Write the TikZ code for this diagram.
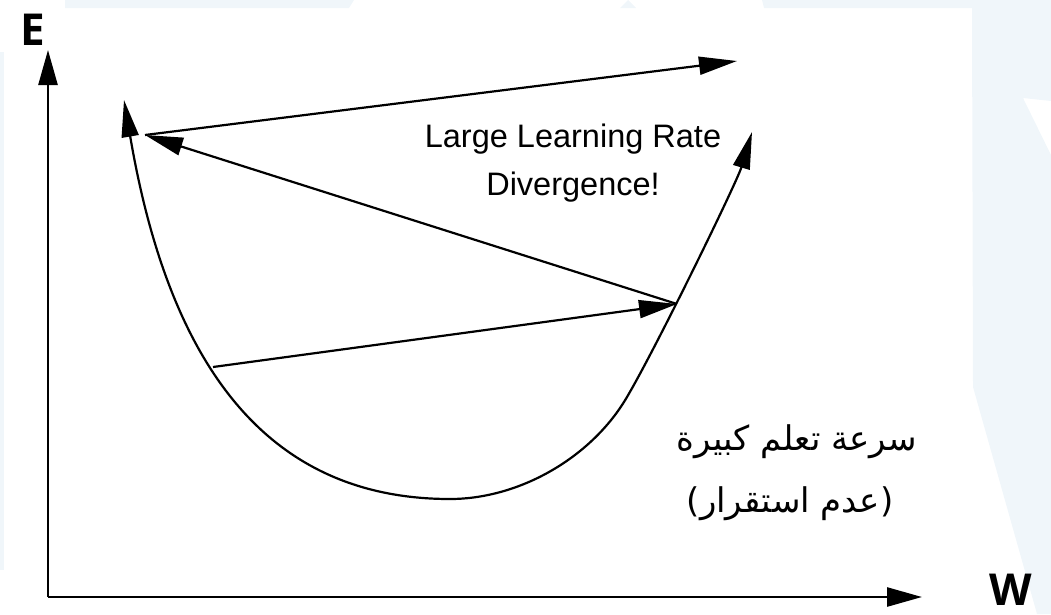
\documentclass[tikz,border=0pt]{standalone}
\usepackage{fontspec}
\setmainfont{Liberation Sans}
\newfontfamily\axisfont{Open Sans}
\newfontfamily\arabicfont[Script=Arabic]{DejaVu Sans}
\TeXXeTstate=1
\usetikzlibrary{arrows.meta}
\definecolor{wmblue}{RGB}{240,246,250}
\tikzset{
    axis/.style    = {line width=2.6pt, -{Triangle[length=35pt, width=19pt]}},
    curve/.style   = {line width=2.2pt, {Triangle[length=37pt, width=17pt]}-{Triangle[length=37pt, width=17pt]}},
    jump/.style    = {line width=2.2pt, -{Triangle[length=38pt, width=18pt]}},
    axlabel/.style = {font=\axisfont\bfseries\fontsize{44}{48}\selectfont, inner sep=0pt, anchor=base},
    note/.style    = {font=\fontsize{32.5}{48}\selectfont, align=center, inner sep=0pt},
    arnote/.style  = {font=\arabicfont\fontsize{34}{40}\selectfont, inner sep=0pt, anchor=base}
}

\begin{document}
\begin{tikzpicture}[x=1pt, y=-1pt]
    \useasboundingbox (0,0) rectangle (1051,614);
    % faint watermark
    \fill[wmblue] (65,0) -- (354,0) -- (349,8) -- (65,8) -- cycle;
    \fill[wmblue] (620,8) -- (628,0) -- (636,8) -- cycle;
    \fill[wmblue] (762,0) -- (1051,0) -- (1051,101) -- (1023,98) -- (1051,155)
        -- (1051,614) -- (1037,614) -- (973,387) -- (972,8) -- (764,8) -- cycle;
    \fill[wmblue] (0,52) rectangle (4,570);

    % axes
    \coordinate (orig) at (48,597);
    \coordinate (etop) at (48,50);
    \coordinate (wend) at (922,597);
    \draw[axis] (orig) -- (etop);
    \draw[axis] (orig) -- (wend);
    \node[axlabel] (elab) at (33,45) {E};
    \node[axlabel] (wlab) at (1011,605) {W};

    % error curve
    \draw[curve] (124,100) .. controls (170,370) and (270,499) .. (450,499)
        .. controls (520,499) and (592,457) .. (627,397)
        .. controls (657,346) and (737,182) .. (752,132);

    % weight jumps
    \coordinate (w0) at (213,367);
    \coordinate (w1) at (677,304);
    \coordinate (w2) at (145,135);
    \coordinate (w3) at (737,61);
    \draw[jump] (w0) -- (w1);
    \draw[jump] (w1) -- (w2);
    \draw[jump] (w2) -- (w3);

    \node[note] (diverg) at (573,163) {Large Learning Rate\\Divergence!};
    \node[arnote] (rate) at (797,450) {\beginR سرعة تعلم كبيرة\endR};
    \node[arnote] (instab) at (790,512) {\beginR(عدم استقرار)\endR};
\end{tikzpicture}
\end{document}
